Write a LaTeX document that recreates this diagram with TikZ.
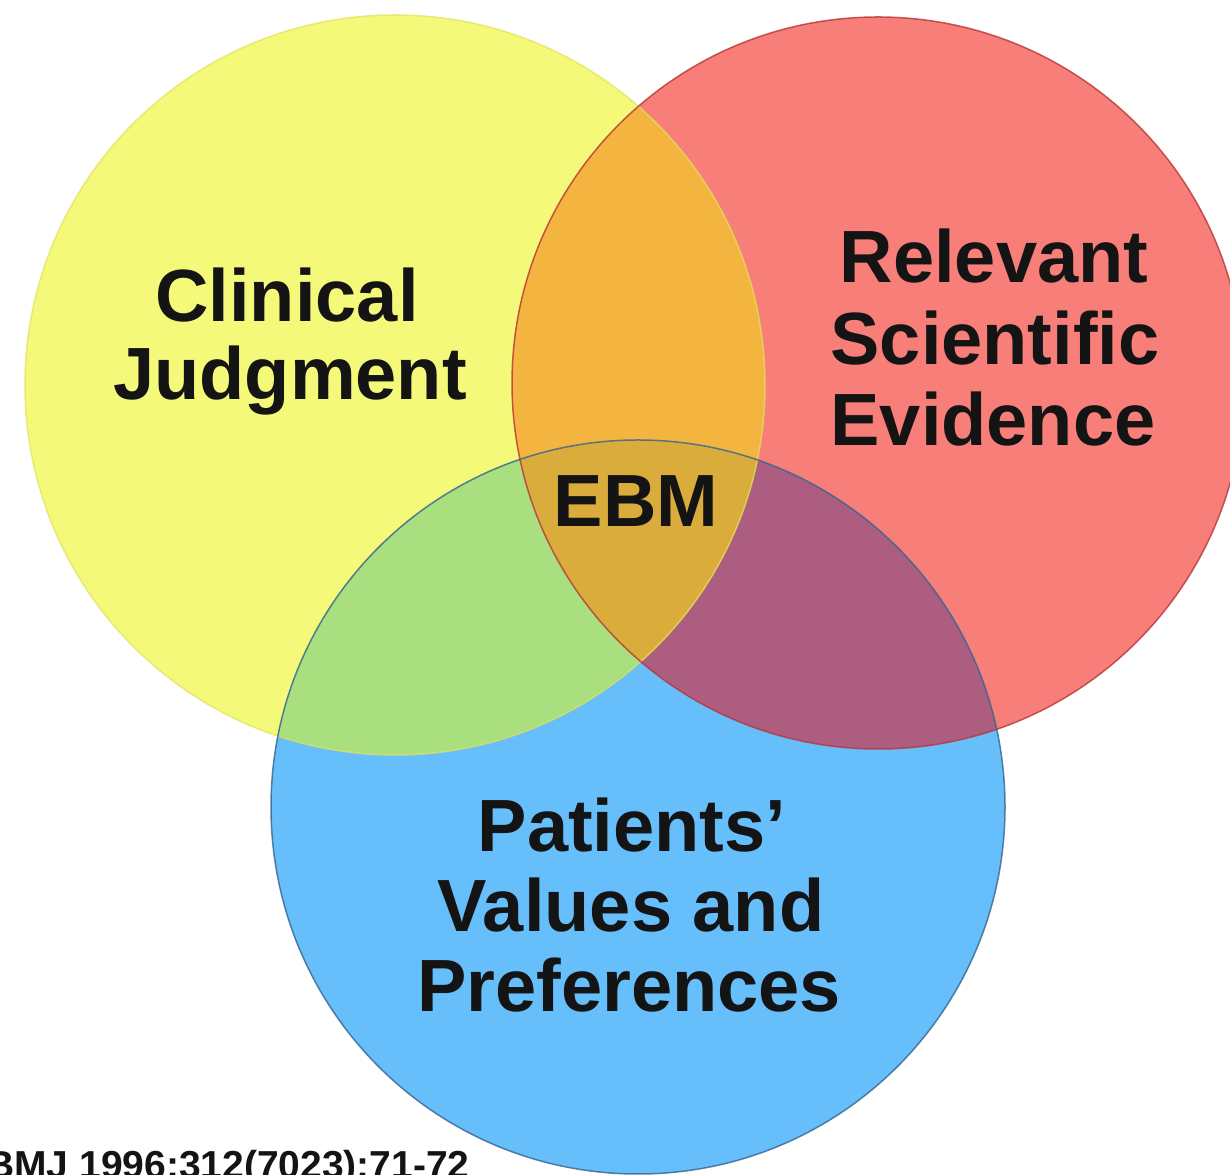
\documentclass[tikz,border=0pt]{standalone}
\usepackage{fontspec}
\setmainfont{Liberation Sans}
\definecolor{cy}{HTML}{F5F97A}
\definecolor{cr}{HTML}{F87E79}
\definecolor{cb}{HTML}{66BEFB}
\definecolor{cyr}{HTML}{F3B53F}
\definecolor{cyb}{HTML}{A9DF7F}
\definecolor{crb}{HTML}{AD5D80}
\definecolor{cc}{HTML}{D9AC3C}
\definecolor{ly}{HTML}{E2E25A}
\definecolor{lr}{HTML}{B83636}
\definecolor{lb}{HTML}{35648F}
\definecolor{ink}{HTML}{141414}
\tikzset{
  lbl/.style={font=\bfseries\fontsize{74}{80}\selectfont, text=ink, anchor=base, inner sep=0pt},
  cite/.style={font=\bfseries\fontsize{39}{44}\selectfont, text=ink, anchor=base east, inner sep=0pt}
}
\begin{document}
\begin{tikzpicture}[x=1pt,y=1pt]
\useasboundingbox (0,0) rectangle (1230,1174);
\fill[white] (0,0) rectangle (1230,1174);
\coordinate (Y) at (395,789);
\coordinate (R) at (878,791);
\coordinate (B) at (638,367);
\def\ry{370}\def\rr{366}\def\rb{367}
% base circles
\fill[cy] (Y) circle[radius=\ry];
\fill[cr] (R) circle[radius=\rr];
\fill[cb] (B) circle[radius=\rb];
% red & blue
\begin{scope}
  \clip (R) circle[radius=\rr];
  \fill[crb] (B) circle[radius=\rb];
\end{scope}
% yellow overlaps
\begin{scope}
  \clip (Y) circle[radius=\ry];
  \fill[cyr] (R) circle[radius=\rr];
  \fill[cyb] (B) circle[radius=\rb];
  \clip (R) circle[radius=\rr];
  \fill[cc] (B) circle[radius=\rb];
\end{scope}
% outlines
\draw[ly, line width=1.5pt, opacity=0.7] (Y) circle[radius=\ry];
\draw[lr, line width=1.5pt, opacity=0.8] (R) circle[radius=\rr];
\draw[lb, line width=1.5pt, opacity=0.8] (B) circle[radius=\rb];
% labels
\node[lbl] (cj1) at (287,852) {Clinical};
\node[lbl] (cj2) at (290,774) {Judgment};
\node[lbl] (rs1) at (994,891) {Relevant};
\node[lbl] (rs2) at (995,809) {Scientific};
\node[lbl] (rs3) at (993,728) {Evidence};
\node[lbl] (ebm) at (636,647) {EBM};
\node[lbl] (pv1) at (632,322) {Patients’};
\node[lbl] (pv2) at (631,242) {Values and};
\node[lbl] (pv3) at (629,162) {Preferences};
\node[cite] (ref) at (470,-4) {BMJ 1996;312(7023):71-72};
\end{tikzpicture}
\end{document}
